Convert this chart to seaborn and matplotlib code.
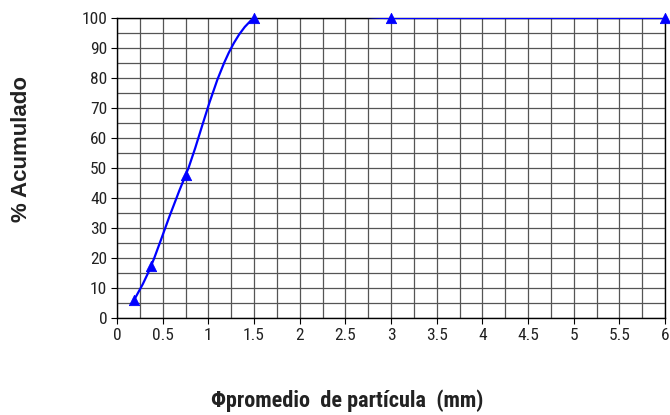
import matplotlib
matplotlib.use("Agg")
import matplotlib.pyplot as plt
from matplotlib.path import Path
from matplotlib.patches import PathPatch
from matplotlib import font_manager
import seaborn as sns
import numpy as np
import pandas as pd

diam = [0.1875, 0.375, 0.75, 1.5, 3.0, 6.0]
acum = [6.0, 17.5, 47.5, 100.0, 100.0, 100.0]
xticks = [0, 0.5, 1, 1.5, 2, 2.5, 3, 3.5, 4, 4.5, 5, 5.5, 6]
yticks = list(range(0, 101, 10))

sns.set_theme(style="white")
plt.rcParams['font.family'] = ['Liberation Sans', 'DejaVu Sans']

# look for a narrow sans family (the reference text is horizontally condensed)
names = sorted({f.name for f in font_manager.fontManager.ttflist})
narrow = None
for cand in ["Liberation Sans Narrow", "Arial Narrow", "Roboto Condensed",
             "Open Sans Condensed", "DejaVu Sans Condensed"]:
    if cand in names:
        narrow = cand
        break
condensed_dejavu = any(f.name == "DejaVu Sans" and str(f.stretch) in ("condensed", "semi-condensed")
                       for f in font_manager.fontManager.ttflist)

if narrow:
    nfam = [narrow, 'Liberation Sans', 'DejaVu Sans']
    tick_fs, xl_fs = 12.5, 16
    nstretch = 'normal'
elif condensed_dejavu:
    nfam = ['DejaVu Sans']
    tick_fs, xl_fs = 11.5, 14.5
    nstretch = 'condensed'
else:
    nfam = ['Liberation Sans', 'DejaVu Sans']
    tick_fs, xl_fs = 11, 13.5
    nstretch = 'normal'

fig = plt.figure(figsize=(6.7, 4.15), dpi=100)
ax = fig.add_axes([117/670, 1-318/415, 548/670, 300/415])

df = pd.DataFrame({"d": diam, "p": acum})

# smoothed line (Excel style bezier through the data points)
pts = np.column_stack([diam, acum])
n = len(pts)
verts = [tuple(pts[0])]
codes = [Path.MOVETO]
for i in range(n - 1):
    p0 = pts[i - 1] if i > 0 else pts[i]
    p1 = pts[i]
    p2 = pts[i + 1]
    p3 = pts[i + 2] if i + 2 < n else pts[i + 1]
    c1 = p1 + (p2 - p0) / 6.0
    c2 = p2 - (p3 - p1) / 6.0
    verts += [tuple(c1), tuple(c2), tuple(p2)]
    codes += [Path.CURVE4] * 3
patch = PathPatch(Path(verts, codes), facecolor='none', edgecolor='#0000ff', lw=1.6, zorder=4)
ax.add_patch(patch)

sns.scatterplot(data=df, x="d", y="p", marker="^", s=55, color="#0000ff",
                edgecolor="#0000ff", zorder=5, clip_on=False, ax=ax, legend=False)

ax.set_xlim(0, 6)
ax.set_ylim(0, 100)
ax.set_xticks(xticks)
ax.set_xticklabels([f"{t:g}" for t in xticks])
ax.set_yticks(yticks)
ax.set_xticks(np.arange(0, 6.01, 0.25), minor=True)
ax.set_yticks(np.arange(0, 100.1, 5), minor=True)
ax.grid(True, which='both', color='#555555', lw=0.9)
ax.set_axisbelow(True)
for s in ax.spines.values():
    s.set_color('black')
    s.set_linewidth(1.0)
ax.tick_params(axis='both', which='major', colors='black', length=4,
               width=0.8, direction='out', left=True, bottom=True, pad=3)
ax.tick_params(axis='both', which='minor', length=0)
for lab in ax.get_xticklabels() + ax.get_yticklabels():
    lab.set_fontfamily(nfam)
    lab.set_fontstretch(nstretch)
    lab.set_fontsize(tick_fs)
    lab.set_color('#222222')

ax.set_xlabel("")
ax.set_ylabel("")
fig.text(22/670, 1-149/415, "% Acumulado", rotation=90, ha='center', va='center',
         fontsize=16, fontweight='bold', color='#222222')
fig.text(347/670, 1-401/415, "\u03A6promedio  de partícula  (mm)", ha='center', va='center',
         fontsize=xl_fs, fontweight='bold', color='#222222',
         family=nfam, fontstretch=nstretch)

fig.savefig("out.png", dpi=100)
